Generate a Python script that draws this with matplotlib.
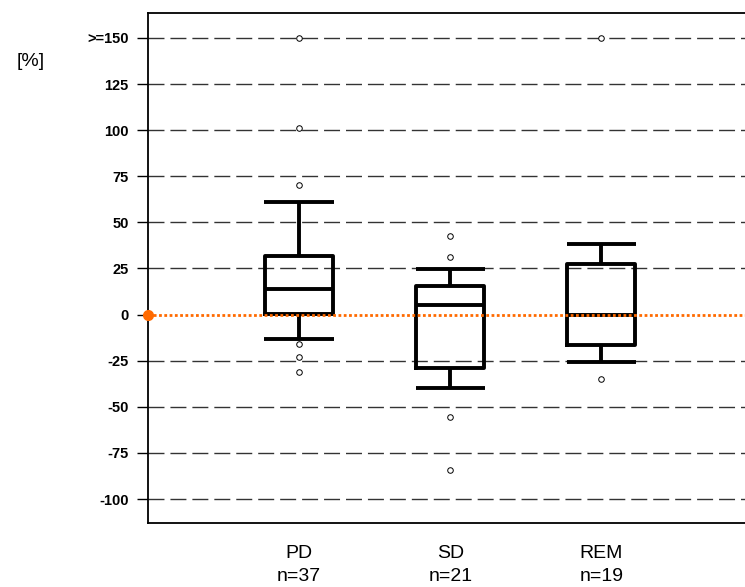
import matplotlib.pyplot as plt

groups = ['PD', 'SD', 'REM']
counts = [37, 21, 19]

# box statistics (in %)
whislo = [-13, -40, -25.5]
q1 = [0.5, -29, -16.5]
median = [14, 5, 0]
q3 = [32, 15.5, 27.5]
whishi = [61, 24.5, 38.5]
fliers = [
    [150, 101, 70.5, -16, -23, -31],
    [42.5, 31, -55.5, -84],
    [150, -35],
]

yticks = [150, 125, 100, 75, 50, 25, 0, -25, -50, -75, -100]
ylabels = ['>=150'] + [str(v) for v in yticks[1:]]

plt.rcParams['font.family'] = ['Liberation Sans Narrow', 'Liberation Sans', 'DejaVu Sans']

fig = plt.figure(figsize=(7.45, 5.87), dpi=100)
ax = fig.add_axes([148 / 745, 1 - 523 / 587, 1 - 148 / 745, 510 / 587])

positions = [1, 2, 3]
stats = []
for i, g in enumerate(groups):
    stats.append({'label': g, 'whislo': whislo[i], 'q1': q1[i], 'med': median[i],
                  'q3': q3[i], 'whishi': whishi[i], 'fliers': fliers[i]})

line = dict(color='black', linewidth=2.8, solid_capstyle='butt')
ax.bxp(stats, positions=positions, widths=0.45, showfliers=True,
       boxprops=dict(color='black', linewidth=2.8),
       whiskerprops=line, capprops=line, medianprops=line,
       capwidths=0.46,
       flierprops=dict(marker='o', markersize=4, markerfacecolor='white',
                       markeredgecolor='black', markeredgewidth=0.7),
       zorder=3)

# dashed reference lines
for v in yticks:
    if v == 0:
        continue
    ax.axhline(v, color='#333333', linewidth=1.0, dashes=(11.5, 4.3), zorder=1)

# zero line
ax.axhline(0, color='#ff6a00', linewidth=2.0, linestyle=(0, (1, 0.9)), zorder=4)
ax.plot([0], [0], 'o', color='#ff6a00', markersize=7, clip_on=False, zorder=5)

ax.set_xlim(0, 3.95)
ax.set_ylim(-113, 163.5)
ax.set_yticks(yticks)
ax.set_yticklabels(ylabels, fontsize=10.5, fontweight='bold')
ax.tick_params(axis='y', length=8, width=1, pad=6)
ax.set_xticks(positions)
ax.set_xticklabels([f'{g}\nn={n}' for g, n in zip(groups, counts)], fontsize=14,
                   linespacing=1.45)
ax.tick_params(axis='x', length=0, pad=16)

ax.spines['right'].set_visible(False)
for s in ['left', 'bottom', 'top']:
    ax.spines[s].set_linewidth(1.3)

fig.text(17 / 745, 1 - 62 / 587, '[%]', fontsize=14, va='center', ha='left')

fig.savefig('out.png', dpi=100)
